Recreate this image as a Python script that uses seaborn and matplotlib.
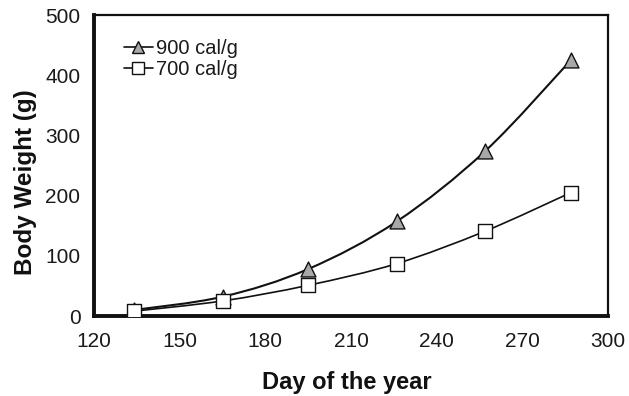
import numpy as np
import pandas as pd
import matplotlib
matplotlib.use("Agg")
import matplotlib.pyplot as plt
from matplotlib.path import Path
from matplotlib.patches import PathPatch
from matplotlib.lines import Line2D
import seaborn as sns

days = [134, 165, 195, 226, 257, 287]
w900 = [10, 32, 78, 157, 274, 425]
w700 = [8, 25, 51, 87, 141, 205]
series_names = ["900 cal/g", "700 cal/g"]
x_ticks = [120, 150, 180, 210, 240, 270, 300]
y_ticks = [0, 100, 200, 300, 400, 500]

sns.set_theme(style="white")
plt.rcParams['font.family'] = ['Liberation Sans', 'DejaVu Sans']

df = pd.DataFrame({
    "day": days * 2,
    "weight": w900 + w700,
    "diet": [series_names[0]] * len(days) + [series_names[1]] * len(days),
})

fig = plt.figure(figsize=(6.29, 3.96), dpi=100)
ax = fig.add_axes([94/629, 80/396, 514/629, 301/396])


def smooth_path(xs, ys):
    # Excel-style smoothed line: Catmull-Rom converted to cubic Bezier
    pts = np.column_stack([xs, ys]).astype(float)
    n = len(pts)
    verts = [pts[0]]
    codes = [Path.MOVETO]
    for i in range(n - 1):
        p0 = pts[i - 1] if i > 0 else pts[i]
        p1 = pts[i]
        p2 = pts[i + 1]
        p3 = pts[i + 2] if i + 2 < n else pts[i + 1]
        c1 = p1 + (p2 - p0) / 6.0
        c2 = p2 - (p3 - p1) / 6.0
        verts += [c1, c2, p2]
        codes += [Path.CURVE4] * 3
    return Path(verts, codes)


for ys, lw in [(w900, 1.5), (w700, 1.2)]:
    ax.add_patch(PathPatch(smooth_path(days, ys), facecolor="none",
                           edgecolor="#111111", lw=lw, zorder=2))

sns.scatterplot(data=df[df.diet == series_names[0]], x="day", y="weight",
                marker="^", s=115, color="#a8a8a8", edgecolor="#111111",
                linewidth=1.0, ax=ax, zorder=3, legend=False)
sns.scatterplot(data=df[df.diet == series_names[1]], x="day", y="weight",
                marker="s", s=115, color="white", edgecolor="#111111",
                linewidth=1.0, ax=ax, zorder=4, legend=False)

ax.set_xlim(120, 300)
ax.set_ylim(0, 500)
ax.set_xticks(x_ticks)
ax.set_yticks(y_ticks)
ax.tick_params(axis="both", which="major", labelsize=15, colors="#111111",
               direction="inout", length=9.5, width=2.3)
ax.tick_params(axis="x", pad=7)
ax.tick_params(axis="y", pad=5)
for lab in ax.get_xticklabels() + ax.get_yticklabels():
    lab.set_color("#1a1a1a")
ax.set_xlabel("Day of the year", fontsize=17, fontweight="bold",
              color="#111111")
ax.set_ylabel("Body Weight (g)", fontsize=17.5, fontweight="bold",
              color="#111111")
ax.xaxis.set_label_coords(0.492, -0.222)
ax.xaxis.label.set_va("center")
ax.yaxis.set_label_coords(-0.134, 0.445)
ax.yaxis.label.set_va("center")

for side in ["left", "bottom"]:
    ax.spines[side].set_linewidth(2.8)
    ax.spines[side].set_color("#111111")
for side in ["top", "right"]:
    ax.spines[side].set_linewidth(1.6)
    ax.spines[side].set_color("#111111")

handles = [
    Line2D([0], [0], color="#111111", lw=1.2, marker="^", markersize=8,
           markerfacecolor="#a8a8a8", markeredgecolor="#111111"),
    Line2D([0], [0], color="#111111", lw=1.2, marker="s", markersize=8,
           markerfacecolor="white", markeredgecolor="#111111"),
]
ax.legend(handles, series_names, loc="upper left",
          bbox_to_anchor=(0.042, 0.946), frameon=False, fontsize=14.5,
          handlelength=1.45, handletextpad=0.15, labelspacing=0.1,
          borderaxespad=0, labelcolor="#1a1a1a")

fig.savefig("out.png", dpi=100)
